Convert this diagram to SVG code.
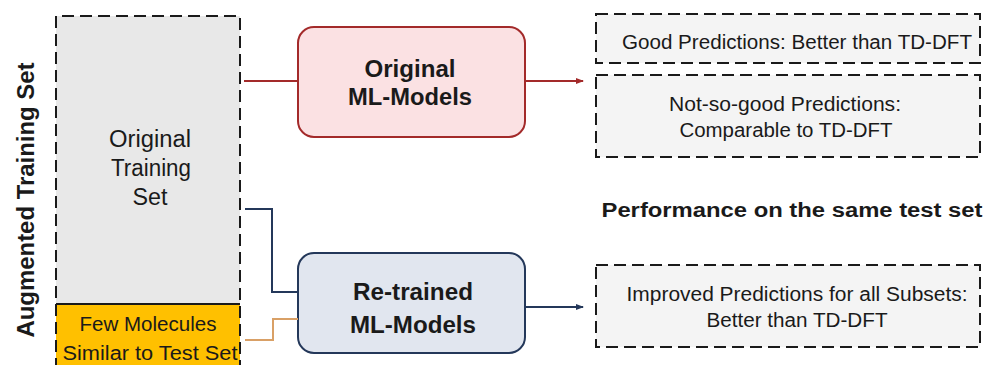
<svg xmlns="http://www.w3.org/2000/svg" width="987" height="365" viewBox="0 0 987 365">
<style>
.dash{stroke:#1a1a1a;stroke-width:2;stroke-dasharray:12 6;}
.t{font-family:"Liberation Sans",Arial,sans-serif;fill:#1a1a1a;text-anchor:middle;}
.b{font-weight:bold;}
</style>
<defs>
<marker id="ar" markerWidth="8" markerHeight="8" refX="7" refY="4" orient="auto" markerUnits="userSpaceOnUse"><path d="M0,1 L8,4 L0,7 Z" fill="#a32a2a"/></marker>
<marker id="ab" markerWidth="8" markerHeight="8" refX="7" refY="4" orient="auto" markerUnits="userSpaceOnUse"><path d="M0,1 L8,4 L0,7 Z" fill="#24385a"/></marker>
</defs>
<rect width="987" height="365" fill="#ffffff"/>
<g id="axis-label"><text class="t b" font-size="24" textLength="275" lengthAdjust="spacingAndGlyphs" transform="translate(34,200) rotate(-90)">Augmented Training Set</text></g>
<g id="training-set">
<rect x="56" y="16" width="184" height="288" fill="#e8e8e8"/>
<rect x="56" y="304" width="184" height="70" fill="#ffc000"/>
<line x1="56" y1="304" x2="240" y2="304" stroke="#1a1a1a" stroke-width="2"/>
<path d="M56,370 V16 H240 V370" fill="none" class="dash"/>
<text class="t" font-size="23"><tspan x="150" y="147" textLength="82" lengthAdjust="spacingAndGlyphs">Original</tspan><tspan x="151" y="176" textLength="80" lengthAdjust="spacingAndGlyphs">Training</tspan><tspan x="150" y="205" textLength="35" lengthAdjust="spacingAndGlyphs">Set</tspan></text>
<text class="t" font-size="20"><tspan x="148" y="331" textLength="137" lengthAdjust="spacingAndGlyphs">Few Molecules</tspan><tspan x="150" y="360" textLength="175" lengthAdjust="spacingAndGlyphs">Similar to Test Set</tspan></text>
</g>
<g id="original-models">
<rect x="298" y="27" width="227" height="110" rx="16" fill="#fbe1e3" stroke="#a32a2a" stroke-width="2"/>
<text class="t b" font-size="23"><tspan x="410" y="77" textLength="91" lengthAdjust="spacingAndGlyphs">Original</tspan><tspan x="410" y="105" textLength="124" lengthAdjust="spacingAndGlyphs">ML-Models</tspan></text>
</g>
<g id="retrained-models">
<rect x="298" y="253" width="227" height="100" rx="16" fill="#e1e6ef" stroke="#24385a" stroke-width="2"/>
<text class="t b" font-size="23"><tspan x="413" y="300" textLength="120" lengthAdjust="spacingAndGlyphs">Re-trained</tspan><tspan x="413" y="333" textLength="126" lengthAdjust="spacingAndGlyphs">ML-Models</tspan></text>
</g>
<g id="good">
<rect x="596" y="14" width="384" height="49" fill="#f4f4f4" class="dash"/>
<text class="t" font-size="20" x="797" y="49" textLength="350" lengthAdjust="spacingAndGlyphs">Good Predictions: Better than TD-DFT</text>
</g>
<g id="notsogood">
<rect x="596" y="75" width="384" height="82" fill="#f4f4f4" class="dash"/>
<text class="t" font-size="20"><tspan x="785" y="111" textLength="232" lengthAdjust="spacingAndGlyphs">Not-so-good Predictions:</tspan><tspan x="786" y="137" textLength="213" lengthAdjust="spacingAndGlyphs">Comparable to TD-DFT</tspan></text>
</g>
<g id="perf-label"><text class="t b" font-size="20" x="792" y="217" textLength="381" lengthAdjust="spacingAndGlyphs">Performance on the same test set</text></g>
<g id="improved">
<rect x="596" y="265" width="384" height="82" fill="#f4f4f4" class="dash"/>
<text class="t" font-size="20"><tspan x="797" y="301" textLength="341" lengthAdjust="spacingAndGlyphs">Improved Predictions for all Subsets:</tspan><tspan x="797" y="327" textLength="181" lengthAdjust="spacingAndGlyphs">Better than TD-DFT</tspan></text>
</g>
<g id="connectors" fill="none" stroke-width="2">
<line x1="244" y1="81" x2="298" y2="81" stroke="#a32a2a"/>
<line x1="525" y1="81" x2="583" y2="81" stroke="#a32a2a" marker-end="url(#ar)"/>
<path d="M245,209 H272 V292 H298" stroke="#24385a"/>
<path d="M245,340 H273 V319 H298" stroke="#d9a066"/>
<line x1="525" y1="307" x2="583" y2="307" stroke="#24385a" marker-end="url(#ab)"/>
</g>
</svg>
